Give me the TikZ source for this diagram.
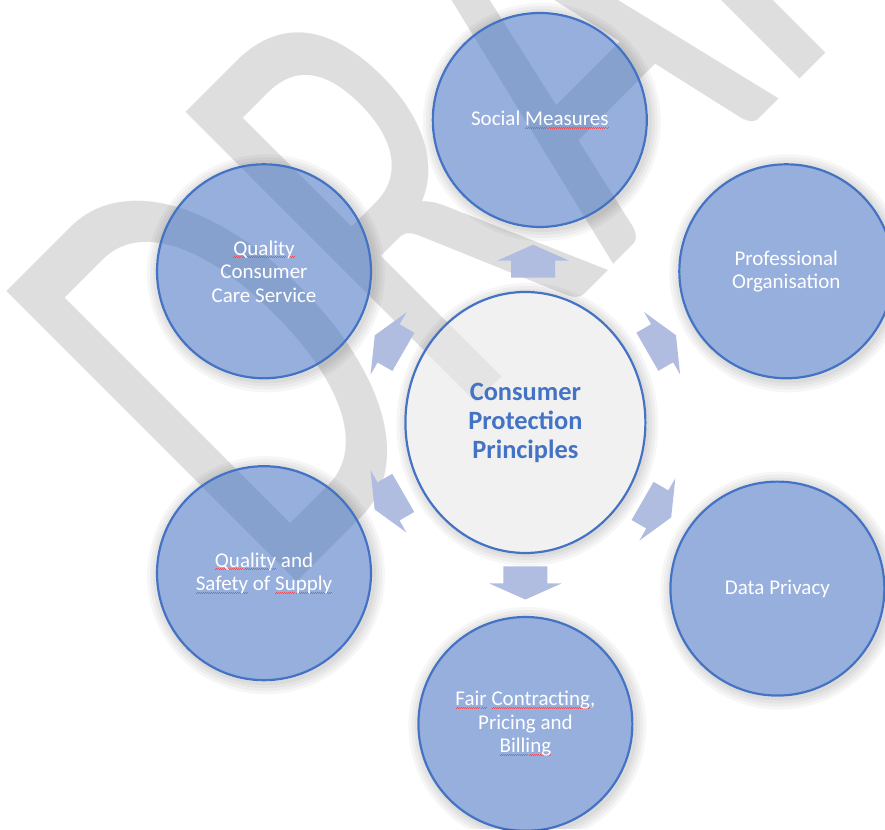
\documentclass[tikz,border=0pt]{standalone}
\usepackage{fontspec}
\setmainfont{Carlito}
\usepackage{tikz}
\usetikzlibrary{calc,shapes.geometric}

\definecolor{accent}{RGB}{68,114,196}
\definecolor{arrowblue}{RGB}{176,189,224}
\definecolor{wmgray}{RGB}{222,222,222}
\definecolor{hubgray}{RGB}{232,232,232}
\definecolor{spellred}{RGB}{226,80,90}
%волнистое подчёркивание проверки орфографии
\newcommand{\spell}[1]{\leavevmode\setbox0\hbox{#1}\rlap{\hbox to \wd0{\color{spellred}\xleaders\hbox{\rule[-2.6pt]{1pt}{0.6pt}\rule[-2pt]{1pt}{0.6pt}}\hfill}}\box0\relax}

\begin{document}
\begin{tikzpicture}[x=1pt,y=1pt,
  sat/.style={circle,minimum size=214pt,inner sep=2pt,draw=accent,line width=2.2pt,
    fill=accent,fill opacity=0.56,text opacity=1,text=white,align=center,
    font=\fontsize{21}{23.5}\selectfont},
  hub/.style={ellipse,minimum width=240pt,minimum height=261pt,draw=accent,line width=2.2pt,
    fill=hubgray,fill opacity=0.6,text opacity=1,text=accent,align=center,
    font=\fontsize{26.4}{29}\selectfont\bfseries},
  blockarrow/.style={fill=arrowblue},
  halo/.style={black,opacity=0.035},
  wmark/.style={text=wmgray,inner sep=0pt,font=\fontsize{640}{640}\selectfont}]
%Поле рисунка
\useasboundingbox (0,0) rectangle (885,829);
\fill[white] (0,0) rectangle (885,829);
\clip (0,0) rectangle (885,829);
%Водяной знак
\node[wmark,rotate=45,xscale=0.64,anchor=base west] (wm) at (277,227.7) {DRAFT};
%Центр
\node[hub] (hub) at (525.4,406.5) {Consumer\\Protection\\Principles};
%Круги вокруг центра
\node[sat] (soc) at (539.8,709) {Social \spell{Measures}};
\node[sat] (prof) at (786.3,557.7) {Professional\\Organisation};
\node[sat] (dp) at (777.4,240.4) {Data Privacy};
\node[sat] (fair) at (525.4,105) {\spell{Fair} \spell{Contracting},\\Pricing and\\\spell{Billing}};
\node[sat] (qs) at (264,255.8) {\spell{Quality} and\\\spell{Safety} of \spell{Supply}};
\node[sat] (qccs) at (264,557.7) {\spell{Quality}\\Consumer\\Care Service};
%Мягкая тень снаружи кругов
\foreach \n in {soc,prof,dp,fair,qs,qccs}{
  \begin{scope}[even odd rule]
    \clip (0,0) rectangle (885,829) (\n.center) circle (108.2);
    \foreach \r in {110,113,116,119}
      \fill[halo] ([shift={(2,-2)}]\n.center) circle (\r);
  \end{scope}
}
\begin{scope}[even odd rule]
  \clip (0,0) rectangle (885,829) (hub.center) ellipse (121.2 and 131.7);
  \foreach \r in {2,5,8,11}
    \fill[halo] ([shift={(2,-2)}]hub.center) ellipse ({120+\r} and {130.5+\r});
\end{scope}
%Стрелки от центра
\foreach \s/\a/\d in {soc/90/162pt,prof/30/158pt,dp/-30/158pt,fair/-90/161pt,qs/-150/158pt,qccs/150/158pt}
  \fill[blockarrow,shift={($(hub.center)!\d!(\s.center)$)},rotate=\a]
    (-17,-22) -- (0,-22) -- (0,-36) -- (16,0) -- (0,36) -- (0,22) -- (-17,22) -- cycle;
\end{tikzpicture}
\end{document}
